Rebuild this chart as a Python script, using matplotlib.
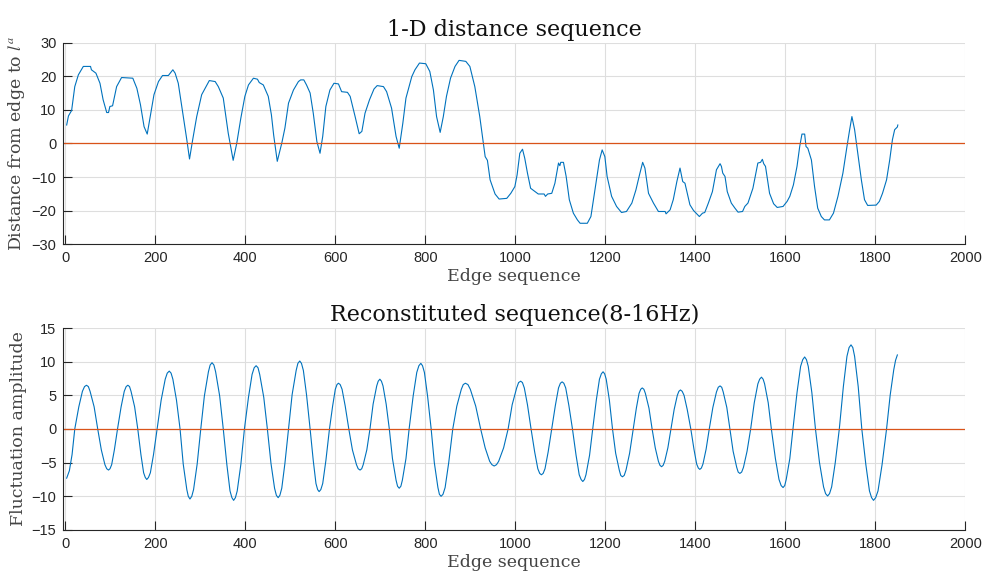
import matplotlib
matplotlib.use("Agg")
import matplotlib.pyplot as plt

matplotlib.rcParams['mathtext.fontset'] = 'stix'

# --- 1-D distance sequence ---
dist_x = [3, 7, 14, 21, 29, 40, 56, 58, 68, 77, 84, 92, 96, 99, 105, 114, 125, 150,
          159, 167, 175, 182, 190, 197, 207, 216, 229, 233, 239, 244, 251, 261, 270,
          276, 283, 292, 303, 320, 333, 340, 351, 362, 373, 381, 390, 399, 407, 418,
          427, 431, 440, 451, 458, 463, 471,
          481, 488, 496, 507, 518, 523, 530, 536, 544, 551, 559, 566, 572, 579, 588,
          597, 607, 614, 627, 633, 644, 653, 659, 666, 676, 686, 693, 707, 714, 725,
          735, 742, 750, 757, 770, 777, 787, 801, 810, 818, 825, 833, 840, 847, 856,
          866, 875, 890, 899, 910, 921, 929,
          933, 938, 944, 955, 964, 981, 990, 999, 1004, 1010, 1016, 1021, 1027, 1034,
          1044, 1051, 1064, 1067, 1072, 1081, 1088, 1096, 1099, 1101, 1107, 1113, 1120,
          1129, 1138, 1144, 1160, 1168, 1177, 1187, 1193, 1199, 1204, 1214, 1225, 1236,
          1247, 1259, 1268, 1276, 1283, 1288, 1296, 1307, 1318, 1333, 1335, 1344, 1351,
          1359, 1366, 1372, 1377, 1388,
          1396, 1409, 1416, 1421, 1429, 1438, 1447, 1455, 1458, 1461, 1466, 1471, 1480,
          1488, 1495, 1505, 1510, 1517, 1528, 1539, 1545, 1549, 1552, 1556, 1565, 1574,
          1582, 1595, 1604, 1610, 1618, 1626, 1632, 1637, 1643, 1646, 1650, 1658, 1665,
          1672, 1680, 1687, 1698, 1707, 1717, 1728, 1737, 1743, 1748, 1754, 1761, 1769,
          1776, 1783, 1802, 1809, 1816, 1825, 1832, 1838, 1843, 1849, 1850]
dist_y = [5.5, 8.2, 9.8, 16.9, 20.4, 22.9, 22.9, 21.9, 20.9, 17.9, 13.0, 9.2, 9.2, 11.0,
          11.2, 16.9, 19.6, 19.4, 16.4, 11.5, 5.0, 2.8, 9.0, 14.5, 18.4, 20.2, 20.2, 20.9,
          21.9, 20.9, 17.9, 9.0, 1.1, -4.6, 1.1, 8.0, 14.5, 18.7, 18.4, 16.9, 13.5, 3.1,
          -5.0, 0.1, 7.5, 14.0, 17.4, 19.4, 19.1, 18.1, 17.4, 14.0, 8.5, 2.5, -5.3,
          0.1, 4.6, 12.0, 15.9, 18.4, 18.9, 18.9, 17.4, 15.0, 9.0, 0.6, -2.9, 2.1, 11.0,
          15.9, 17.9, 17.7, 15.4, 15.2, 14.0, 8.0, 2.9, 3.6, 9.0, 13.0, 16.2, 17.2, 16.9,
          15.4, 10.5, 2.1, -1.4, 6.0, 13.5, 19.9, 21.9, 23.9, 23.7, 21.4, 15.9, 8.0, 3.3,
          8.0, 14.0, 19.4, 22.9, 24.7, 24.4, 22.9, 16.9, 8.0, 0.1,
          -3.9, -5.0, -10.8, -15.0, -16.5, -16.3, -14.8, -12.8, -9.3, -2.9, -1.7, -4.4,
          -8.8, -13.3, -14.3, -15.0, -15.0, -15.7, -15.0, -14.8, -11.8, -5.8, -6.6, -5.6,
          -5.6, -9.8, -16.7, -20.7, -22.7, -23.7, -23.7, -21.7, -13.8, -4.9, -1.9, -3.9,
          -9.8, -15.7, -18.7, -20.5, -20.2, -17.7, -13.8, -9.3, -5.6, -7.3, -14.8, -17.7,
          -20.2, -20.2, -20.9, -19.7, -16.7, -11.3, -7.3, -11.3, -11.8, -18.2,
          -19.9, -21.7, -20.7, -20.5, -17.7, -14.3, -7.8, -6.0, -6.8, -8.8, -9.8, -14.3,
          -17.7, -19.2, -20.4, -20.2, -18.7, -17.7, -13.3, -5.8, -5.6, -4.7, -6.0, -6.8,
          -14.8, -17.9, -19.0, -18.7, -17.2, -15.7, -12.3, -6.8, -0.9, 2.8, 2.8, -0.9,
          -1.4, -4.9, -12.8, -19.2, -21.7, -22.7, -22.7, -20.7, -15.7, -8.8, -0.9, 4.1,
          8.0, 4.1, -2.9, -10.8, -16.7, -18.4, -18.3, -17.2, -14.8, -10.8, -4.9, 1.1,
          4.1, 4.9, 5.5]

# --- reconstituted sequence (8-16Hz) ---
recon_x = [3, 9, 15, 21,
           30, 38, 42.7, 47, 51.2, 55, 64, 72,
           80, 88, 92, 96, 99.3, 103, 109, 116,
           124, 131, 135.2, 139, 142.7, 146, 154, 161,
           168, 174, 177.7, 181, 184.8, 189, 196, 204,
           213, 222, 226.5, 231, 235, 239, 247, 255,
           262, 270, 273.3, 277, 281, 285, 293, 301,
           309, 318, 321.8, 326, 330.2, 334, 343, 351,
           359, 366, 370.2, 374, 378, 382, 390, 398,
           407, 415, 419.7, 424, 428.2, 432, 441, 449,
           457, 465, 469, 473, 476.8, 481, 488, 496,
           504, 513, 516.8, 521, 524.8, 529, 536, 544,
           551, 557, 560.7, 564, 567.8, 572, 579, 587,
           594, 600, 603.7, 607, 610.8, 615, 622, 630,
           638, 647, 650.8, 655, 658.7, 662, 670, 677,
           684, 692, 695.3, 699, 702.5, 706, 713, 720,
           727, 735, 738.3, 742, 745.7, 749, 757, 764,
           773, 781, 785.7, 790, 793.8, 798, 805, 813,
           820, 828, 831.3, 835, 839.3, 844, 852, 861,
           870, 880, 884.3, 889, 894.7, 900, 912, 923,
           933, 943, 948, 953, 958.2, 963, 974, 984,
           993, 1003, 1007.3, 1012, 1015.8, 1020, 1027, 1035,
           1043, 1050, 1054.2, 1058, 1061.8, 1066, 1073, 1081,
           1089, 1096, 1100.2, 1104, 1107.8, 1112, 1119, 1127,
           1135, 1142, 1146.2, 1150, 1153.7, 1157, 1165, 1172,
           1180, 1187, 1191.2, 1195, 1198.5, 1202, 1209, 1216,
           1223, 1231, 1234.3, 1238, 1242, 1246, 1254, 1262,
           1269, 1275, 1278.7, 1282, 1285.7, 1289, 1297, 1304,
           1311, 1318, 1321.5, 1325, 1328.5, 1332, 1339, 1346,
           1353, 1360, 1363.5, 1367, 1370.8, 1375, 1382, 1390,
           1397, 1403, 1406.7, 1410, 1413.5, 1417, 1424, 1431,
           1439, 1447, 1451, 1455, 1458.7, 1462, 1470, 1477,
           1484, 1492, 1495.3, 1499, 1503, 1507, 1515, 1523,
           1531, 1539, 1543, 1547, 1550.7, 1554, 1562, 1569,
           1578, 1586, 1590.7, 1595, 1598.7, 1602, 1610, 1617,
           1626, 1634, 1638.7, 1643, 1647, 1651, 1659, 1667,
           1676, 1685, 1689.5, 1694, 1698.3, 1703, 1711, 1720,
           1729, 1737, 1741.7, 1746, 1750, 1754, 1762, 1770,
           1779, 1787, 1791.7, 1796, 1800.8, 1806, 1815, 1825,
           1833, 1841, 1845, 1849]
recon_y = [-7.3, -6.2, -3.8, 0,
           3.3, 5.6, 6.3, 6.5, 6.3, 5.6, 3.3, 0,
           -3.1, -5.3, -5.9, -6.1, -5.9, -5.3, -3.1, 0,
           3.3, 5.6, 6.3, 6.5, 6.3, 5.6, 3.3, 0,
           -3.8, -6.5, -7.2, -7.5, -7.2, -6.5, -3.8, 0,
           4.3, 7.4, 8.3, 8.6, 8.3, 7.4, 4.3, 0,
           -5.2, -9.0, -10.0, -10.4, -10.0, -9.0, -5.2, 0,
           4.9, 8.5, 9.5, 9.85, 9.5, 8.5, 4.9, 0,
           -5.3, -9.2, -10.2, -10.6, -10.2, -9.2, -5.3, 0,
           4.7, 8.1, 9.1, 9.4, 9.1, 8.1, 4.7, 0,
           -5.1, -8.8, -9.85, -10.2, -9.85, -8.8, -5.1, 0,
           5.1, 8.7, 9.75, 10.1, 9.75, 8.7, 5.1, 0,
           -4.7, -8.1, -9.0, -9.3, -9.0, -8.1, -4.7, 0,
           3.4, 5.9, 6.6, 6.8, 6.6, 5.9, 3.4, 0,
           -3.1, -5.3, -5.9, -6.1, -5.9, -5.3, -3.1, 0,
           3.7, 6.4, 7.1, 7.4, 7.1, 6.4, 3.7, 0,
           -4.4, -7.6, -8.5, -8.8, -8.5, -7.6, -4.4, 0,
           4.9, 8.4, 9.4, 9.75, 9.4, 8.4, 4.9, 0,
           -5.0, -8.7, -9.7, -10.0, -9.7, -8.7, -5.0, 0,
           3.4, 5.9, 6.6, 6.8, 6.6, 5.9, 3.4, 0,
           -2.8, -4.8, -5.3, -5.5, -5.3, -4.8, -2.8, 0,
           3.6, 6.1, 6.9, 7.1, 6.9, 6.1, 3.6, 0,
           -3.4, -5.9, -6.6, -6.8, -6.6, -5.9, -3.4, 0,
           3.5, 6.1, 6.8, 7.0, 6.8, 6.1, 3.5, 0,
           -3.9, -6.8, -7.5, -7.8, -7.5, -6.8, -3.9, 0,
           4.3, 7.4, 8.2, 8.5, 8.2, 7.4, 4.3, 0,
           -3.6, -6.1, -6.9, -7.1, -6.9, -6.1, -3.6, 0,
           3.1, 5.3, 5.9, 6.1, 5.9, 5.3, 3.1, 0,
           -2.8, -4.8, -5.4, -5.6, -5.4, -4.8, -2.8, 0,
           2.9, 5.0, 5.6, 5.8, 5.6, 5.0, 2.9, 0,
           -3.0, -5.2, -5.8, -6.0, -5.8, -5.2, -3.0, 0,
           3.2, 5.5, 6.2, 6.4, 6.2, 5.5, 3.2, 0,
           -3.3, -5.7, -6.4, -6.6, -6.4, -5.7, -3.3, 0,
           3.9, 6.7, 7.4, 7.7, 7.4, 6.7, 3.9, 0,
           -4.4, -7.5, -8.4, -8.7, -8.4, -7.5, -4.4, 0,
           5.4, 9.3, 10.3, 10.7, 10.3, 9.3, 5.4, 0,
           -5.0, -8.6, -9.6, -9.95, -9.6, -8.6, -5.0, 0,
           6.3, 10.8, 12.1, 12.5, 12.1, 10.8, 6.3, 0,
           -5.3, -9.2, -10.2, -10.6, -10.2, -9.2, -5.3, 0,
           5.0, 8.8, 10.2, 11.0]

x_ticks = [0, 200, 400, 600, 800, 1000, 1200, 1400, 1600, 1800, 2000]
top_yticks = [-30, -20, -10, 0, 10, 20, 30]
bot_yticks = [-15, -10, -5, 0, 5, 10, 15]

blue = '#0072BD'
orange = '#D95319'
axcol = '#262626'
serif = 'DejaVu Serif'

fig = plt.figure(figsize=(9.82, 5.77), dpi=100)
ax1 = fig.add_axes([0.0645, 0.5763, 0.9185, 0.350])
ax2 = fig.add_axes([0.0645, 0.0815, 0.9185, 0.350])


def style(ax, yticks):
    ax.set_xlim(-4.4, 2000)
    ax.set_ylim(yticks[0], yticks[-1])
    ax.set_xticks(x_ticks)
    ax.set_yticks(yticks)
    ax.grid(True, color='#dedede', linewidth=0.8)
    ax.set_axisbelow(True)
    for s in ['top', 'right']:
        ax.spines[s].set_visible(False)
    for s in ['left', 'bottom']:
        ax.spines[s].set_color(axcol)
        ax.spines[s].set_linewidth(0.8)
    ax.tick_params(direction='in', length=6.5, width=0.8, color=axcol,
                   labelcolor=axcol, labelsize=10.5, pad=5)
    for lab in ax.get_xticklabels() + ax.get_yticklabels():
        lab.set_fontfamily('Liberation Sans')


ax1.plot(dist_x, dist_y, color=blue, linewidth=0.8)
ax1.axhline(0, color=orange, linewidth=0.9)
style(ax1, top_yticks)
ax1.set_title("1-D distance sequence", fontfamily=serif, fontsize=16,
              color='#111111', pad=5)
ax1.set_xlabel("Edge sequence", fontfamily=serif, fontsize=12.5,
               color='#444444', labelpad=2)
ax1.set_ylabel("Distance from edge to $l^a$", fontfamily=serif, fontsize=12.5,
               color='#444444', labelpad=3)

ax2.plot(recon_x, recon_y, color=blue, linewidth=0.8)
ax2.axhline(0, color=orange, linewidth=0.9)
style(ax2, bot_yticks)
ax2.set_title("Reconstituted sequence(8-16Hz)", fontfamily=serif, fontsize=16,
              color='#111111', pad=5)
ax2.set_xlabel("Edge sequence", fontfamily=serif, fontsize=12.5,
               color='#444444', labelpad=2)
ax2.set_ylabel("Fluctuation amplitude", fontfamily=serif, fontsize=12.5,
               color='#444444', labelpad=3)

fig.savefig("out.png", dpi=100, facecolor='white')
